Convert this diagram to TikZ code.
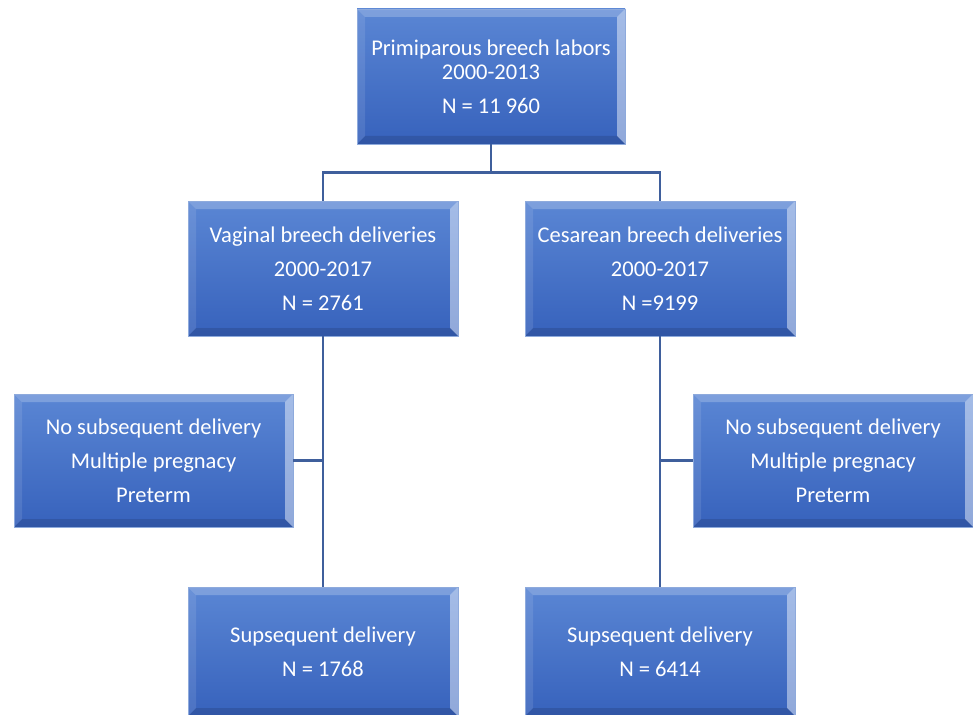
\documentclass[tikz,border=0pt]{standalone}
\usepackage{fontspec}
\setmainfont{Carlito}
\definecolor{boxblue}{HTML}{4472C4}
\definecolor{boxtop}{HTML}{5A86D4}
\definecolor{boxbot}{HTML}{3762BC}
\definecolor{edgeblue}{HTML}{8EAADC}
\definecolor{lineblue}{HTML}{3F5F9C}
\tikzset{
  flowbox/.style={draw=edgeblue, line width=0.6pt, top color=boxtop, bottom color=boxbot,
    text=white, align=center, inner sep=0pt, minimum width=270pt, minimum height=135pt,
    font=\fontsize{22.5}{34}\selectfont,
    path picture={
      \fill[white,opacity=0.22] (path picture bounding box.north west) -- (path picture bounding box.north east)
        -- ([shift={(-8pt,-8pt)}]path picture bounding box.north east) -- ([shift={(8pt,-8pt)}]path picture bounding box.north west) -- cycle;
      \fill[white,opacity=0.45] (path picture bounding box.north east) -- (path picture bounding box.south east)
        -- ([shift={(-8pt,8pt)}]path picture bounding box.south east) -- ([shift={(-8pt,-8pt)}]path picture bounding box.north east) -- cycle;
      \fill[black,opacity=0.12] (path picture bounding box.south west) -- (path picture bounding box.south east)
        -- ([shift={(-8pt,8pt)}]path picture bounding box.south east) -- ([shift={(8pt,8pt)}]path picture bounding box.south west) -- cycle;
      \fill[white,opacity=0.10] (path picture bounding box.north west) -- (path picture bounding box.south west)
        -- ([shift={(8pt,8pt)}]path picture bounding box.south west) -- ([shift={(8pt,-8pt)}]path picture bounding box.north west) -- cycle;
    }},
  conn/.style={draw=lineblue, line width=2.4pt}
}
\begin{document}
\begin{tikzpicture}[x=1pt, y=-1pt]
\useasboundingbox[fill=white] (0,0) rectangle (973,714);
\node[flowbox, minimum width=268pt] (labors) at (491,76.5) {Primiparous breech labors\\[-10pt]2000-2013\\N = 11 960};
\node[flowbox] (vaginal) at (323,268.5) {Vaginal breech deliveries\\2000-2017\\N = 2761};
\node[flowbox] (cesarean) at (660,268.5) {Cesarean breech deliveries\\2000-2017\\N =9199};
\node[flowbox, minimum width=279pt, minimum height=133pt] (exclvag) at (153.5,460.5) {No subsequent delivery\\Multiple pregnacy\\Preterm};
\node[flowbox, minimum width=280pt, minimum height=133pt] (exclces) at (833,460.5) {No subsequent delivery\\Multiple pregnacy\\Preterm};
\node[flowbox, minimum height=129pt] (subvag) at (323,651.5) {Supsequent delivery\\N = 1768};
\node[flowbox, minimum height=129pt] (subces) at (660,651.5) {Supsequent delivery\\N = 6414};
\draw[conn] (labors.south) -- ++(0,28) coordinate (split);
\draw[conn] (vaginal.north) |- (split) -| (cesarean.north);
\draw[conn] (vaginal.south) -- (subvag.north);
\draw[conn] (cesarean.south) -- (subces.north);
\draw[conn] (exclvag.east) -- (exclvag.east -| vaginal.south);
\draw[conn] (exclces.west) -- (exclces.west -| cesarean.south);
\end{tikzpicture}
\end{document}
